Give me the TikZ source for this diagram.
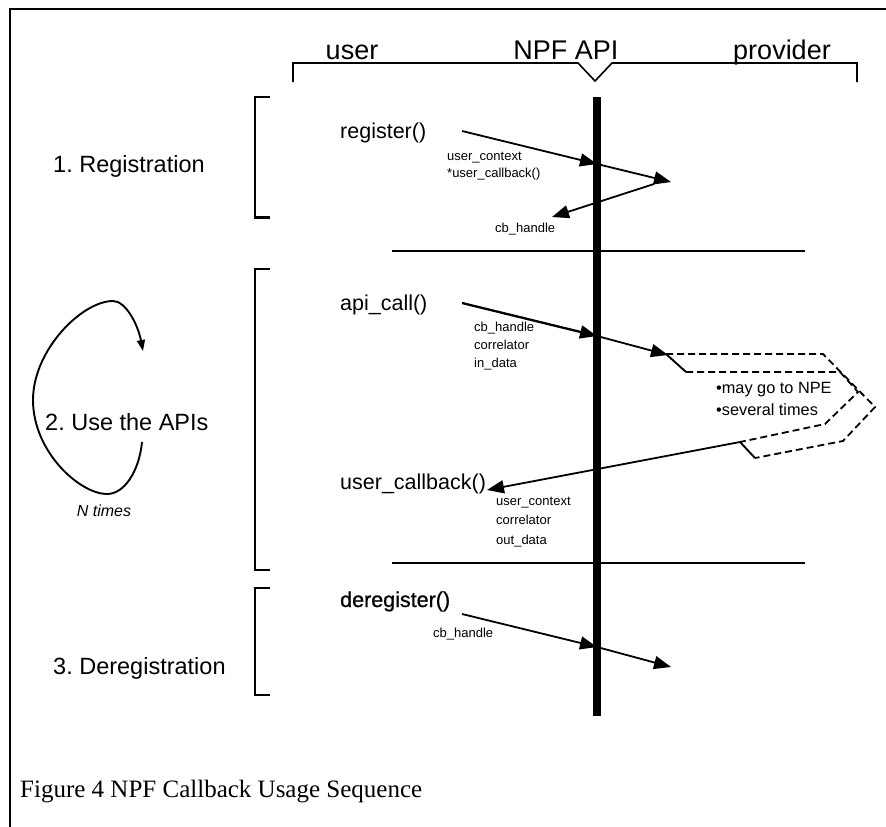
\documentclass[tikz,border=0pt]{standalone}
\usepackage{fontspec}
\setmainfont{Liberation Sans}
\newfontfamily\capfont{Liberation Serif}
\newfontfamily\semibold[FakeBold=0.8]{Liberation Sans}
\usetikzlibrary{arrows.meta}
\begin{document}
\frenchspacing
\begin{tikzpicture}[x=1pt,y=-1pt,
  hdr/.style={font=\fontsize{27}{27}\selectfont, inner sep=0pt, anchor=base},
  func/.style={font=\fontsize{21.5}{21.5}\selectfont, anchor=base west, inner sep=0pt},
  phase/.style={font=\fontsize{23.5}{23.5}\selectfont, anchor=base west, inner sep=0pt},
  small/.style={font=\fontsize{13}{13}\selectfont, anchor=base west, inner sep=0pt},
  note/.style={font=\fontsize{16.3}{16.3}\selectfont, anchor=base west, inner sep=0pt},
  msg/.style={line width=1.8pt, -{Triangle[length=17pt,width=13pt]}},
  thin/.style={line width=1.5pt},
  brk/.style={line width=1.6pt},
  ribbon/.style={line width=1.8pt, dash pattern=on 7pt off 4pt},
]
\useasboundingbox (0,0) rectangle (886,827);
\fill[white] (0,0) rectangle (886,827);

% frame
\draw[line width=2.5pt] (10,827) -- (10,9) -- (886,9);

% header
\node[hdr] (huser) at (352,59) {user};
\node[hdr] (hapi) at (566,59) {NPF API};
\node[hdr] (hprov) at (782,59) {provider};
\draw[brk] (293,82) -- (293,63) -- (578,63) -- (595,81) -- (612,63) -- (857,63) -- (857,82);

% lifeline
\coordinate (ltop) at (597,97);
\coordinate (lbot) at (597,716);
\draw[line width=8pt] (ltop) -- (lbot);

% phase brackets
\draw[brk] (270,97) -- (255,97) -- (255,217);
\draw[line width=3pt] (254.2,217) -- (270,217);
\draw[brk] (270,269) -- (255,269) -- (255,570) -- (270,570);
\draw[brk] (270,588) -- (255,588) -- (255,695) -- (270,695);

% separators
\draw[thin] (392,251) -- (805,251);
\draw[thin] (392,563) -- (805,563);

% phase labels
\node[phase] (p1) at (53,172) {1. Registration};
\node[phase] (p2) at (45,430) {2. Use the APIs};
\node[phase] (p3) at (53,674) {3. Deregistration};
\node[font=\fontsize{16}{16}\selectfont\itshape, inner sep=0pt, anchor=base] (ntimes) at (104,516) {N times};

% loop arrow
\coordinate (lp0) at (142,442);
\coordinate (lp1) at (107,494);
\coordinate (lp2) at (33,400);
\coordinate (lp3) at (113,301);
\coordinate (lp4) at (143,351);
\draw[line width=1.9pt, -{Triangle[length=11pt,width=8pt]}]
  (lp0) .. controls (139,472) and (124,494) .. (lp1)
        .. controls (80,494) and (33,452) .. (lp2)
        .. controls (33,350) and (82,301) .. (lp3)
        .. controls (126,301) and (138,325) .. (lp4);

% ---------- registration ----------
\node[func] (reg) at (340,138) {register()};
\node[small] (ucx) at (447,160) {user\_context};
\node[small] (ucb) at (447,177) {*user\_callback()};
\node[small] (cbh1) at (495,232) {cb\_handle};
\coordinate (r0) at (462,131);
\coordinate (r1) at (597,164);
\coordinate (r2) at (671,182);
\coordinate (r3) at (654,184);
\coordinate (r4) at (552,217);
\draw[msg] (r0) -- (r1);
\draw[msg] (r1) -- (r2);
\draw[msg] (r3) -- (r4);

% ---------- API use ----------
\node[func] (api) at (340,310) {api\_call()};
\node[small] (a1l) at (474,331) {cb\_handle};
\node[small] (a2l) at (474,349) {correlator};
\node[small] (a3l) at (474,367) {in\_data};
\coordinate (a0) at (462,303);
\coordinate (a1) at (597,336);
\coordinate (a2) at (668,355);
\draw[msg, line width=2.3pt] (a0) -- (a1);
\draw[msg] (a1) -- (a2);

% ribbon (may go to NPE)
\coordinate (rA) at (666,354);
\coordinate (rB) at (823,354);
\coordinate (rC) at (875,407);
\coordinate (rD) at (843,441);
\coordinate (rE) at (755,458);
\coordinate (rF) at (740,442);
\coordinate (rG) at (686,372);
\coordinate (rH) at (840,372);
\coordinate (rI) at (858,392);
\coordinate (rJ) at (825,424);
\draw[line width=1.9pt] (rA) -- (rG);
\draw[ribbon] (rA) -- (rB) -- (rC) -- (rD) -- (rE);
\draw[ribbon] (rG) -- (rH) -- (rI) -- (rJ) -- (rF);
\draw[line width=1.9pt] (rE) -- (rF);
\node[note] (npe1) at (716,393) {\textbullet may go to NPE};
\node[note] (npe2) at (716,415) {\textbullet several times};

% user callback
\node[func] (ucall) at (340,489) {user\_callback()};
\node[small] (u1l) at (496,505) {user\_context};
\node[small] (u2l) at (496,524) {correlator};
\node[small] (u3l) at (496,544) {out\_data};
\coordinate (u1) at (487,490);
\draw[msg] (rF) -- (u1);

% ---------- deregistration ----------
\node[func] (dereg) at (340,607) {\semibold deregister()};
\node[small] (d1l) at (433,637) {cb\_handle};
\coordinate (d0) at (462,614);
\coordinate (d1) at (597,647);
\coordinate (d2) at (671,667);
\draw[msg] (d0) -- (d1);
\draw[msg] (d1) -- (d2);

% caption
\node[font=\capfont\fontsize{25}{25}\selectfont, anchor=base west, inner sep=0pt] (cap) at (20,797) {Figure 4 NPF Callback Usage Sequence};
\end{tikzpicture}
\end{document}
